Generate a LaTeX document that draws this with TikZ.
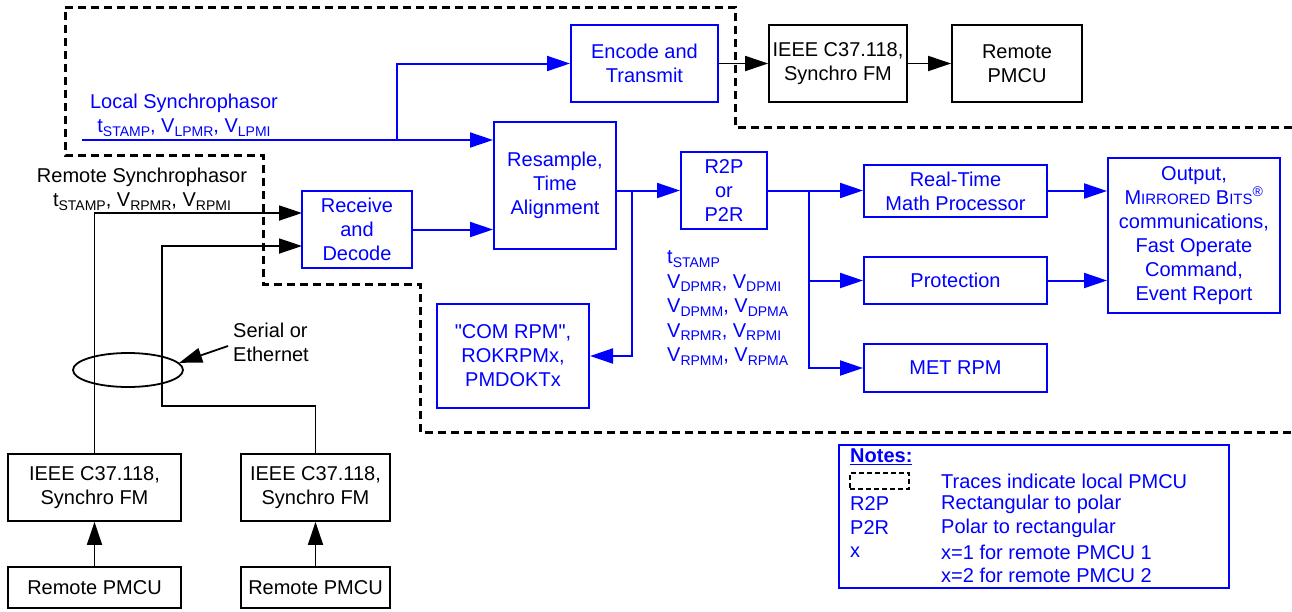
\documentclass[tikz,border=0pt]{standalone}
\usepackage{fontspec}
\setmainfont{Liberation Sans}
\newfontfamily\qfont[Ligatures=TeXOff]{Liberation Sans}
\usetikzlibrary{arrows.meta,shapes.geometric}
\newcommand{\sbs}[1]{\raisebox{-0.35ex}{\fontsize{14}{14}\selectfont #1}}
\newcommand{\smc}[1]{{\fontsize{15}{24}\selectfont #1}}
\newcommand{\sq}{{\qfont\char34}}
\definecolor{pblue}{RGB}{0,0,255}
\tikzset{
  every node/.style={font=\fontsize{20}{24}\selectfont, inner sep=0pt},
  bbox/.style={draw=pblue, text=pblue, line width=2pt, align=center},
  kbox/.style={draw=black, text=black, line width=1.8pt, align=center},
  barrow/.style={draw=pblue, line width=2pt, -{Triangle[length=23pt,width=15pt]}},
  karrow/.style={draw=black, line width=1.8pt, -{Triangle[length=23pt,width=15pt]}},
  trace/.style={draw=black, line width=3pt, dash pattern=on 8pt off 5pt},
  lbl/.style={text=pblue, align=left, anchor=west},
}
\begin{document}
\begin{tikzpicture}[x=1pt,y=-1pt]
\useasboundingbox (0,0) rectangle (1292,611);
% local PMCU trace
\draw[trace] (1292,127) -- (735,127) -- (735,7) -- (65,7) -- (65,155) -- (263,155) -- (263,284) -- (420,284) -- (420,432) -- (1292,432);

% blue boxes
\node[bbox, minimum width=147, minimum height=77] (enc) at (644.5,63.5) {Encode and\\Transmit};
\node[bbox, minimum width=122, minimum height=127] (res) at (555,185.5) {Resample,\\Time\\Alignment};
\node[bbox, minimum width=110, minimum height=77] (rcv) at (357,229.5) {Receive\\and\\Decode};
\node[bbox, minimum width=86, minimum height=77] (r2p) at (724,190.5) {R2P\\or\\P2R};
\node[bbox, minimum width=183, minimum height=52] (rtm) at (955.5,191) {Real-Time\\Math Processor};
\node[bbox, minimum width=183, minimum height=47] (prot) at (955.5,280.5) {Protection};
\node[bbox, minimum width=183, minimum height=48] (met) at (955.5,368) {MET RPM};
\node[bbox, minimum width=172, minimum height=155] (out) at (1194,235.5) {Output,\\M\smc{IRRORED} B\smc{ITS}\textsuperscript{\textregistered}\\communications,\\Fast Operate\\Command,\\Event Report};
\node[bbox, minimum width=152, minimum height=104] (com) at (513,356) {\sq COM RPM\sq,\\ROKRPMx,\\PMDOKTx};

% black boxes
\node[kbox, minimum width=138, minimum height=77] (ieeeT) at (838,63.5) {IEEE C37.118,\\Synchro FM};
\node[kbox, minimum width=130, minimum height=77] (remT) at (1017,63.5) {Remote\\PMCU};
\node[kbox, minimum width=173, minimum height=67] (ieeeL) at (94.5,487.5) {IEEE C37.118,\\Synchro FM};
\node[kbox, minimum width=149, minimum height=67] (ieeeR) at (315.5,487.5) {IEEE C37.118,\\Synchro FM};
\node[kbox, minimum width=173, minimum height=41] (remL) at (94.5,587.5) {Remote PMCU};
\node[kbox, minimum width=149, minimum height=41] (remR) at (315.5,587.5) {Remote PMCU};

% labels
\node[text=pblue, align=center] (lsl) at (184,115) {Local Synchrophasor\\t\sbs{STAMP}, V\sbs{LPMR}, V\sbs{LPMI}};
\node[text=black, align=center] (rsl) at (142,189) {Remote Synchrophasor\\t\sbs{STAMP}, V\sbs{RPMR}, V\sbs{RPMI}};
\node[lbl, font=\fontsize{20}{24.5}\selectfont] (vals) at (667,308) {t\sbs{STAMP}\\V\sbs{DPMR}, V\sbs{DPMI}\\V\sbs{DPMM}, V\sbs{DPMA}\\V\sbs{RPMR}, V\sbs{RPMI}\\V\sbs{RPMM}, V\sbs{RPMA}};

% blue connectors
\coordinate (ls) at (82,140);
\coordinate (lsb) at (397,140);
\draw[barrow] (ls) -- (ls -| res.west);
\draw[barrow] (lsb) |- (enc.west);
\draw[barrow] (rcv.east) -- (rcv.east -| res.west);
\draw[barrow] (res.east |- r2p.west) -- (r2p.west);
\coordinate (b1) at (632,190.5);
\draw[barrow] (b1) |- (com.east);
\coordinate (b2) at (809,190.5);
\draw[barrow] (r2p.east) -- (r2p.east -| rtm.west);
\draw[barrow] (b2) |- (prot.west);
\draw[barrow] (b2) |- (met.west);
\draw[barrow] (rtm.east) -- (rtm.east -| out.west);
\draw[barrow] (prot.east) -- (prot.east -| out.west);

% black connectors
\draw[karrow] (enc.east) -- (ieeeT.west);
\draw[karrow] (ieeeT.east) -- (remT.west);
\coordinate (rin1) at (302,213);
\coordinate (rin2) at (302,246);
\coordinate (c1) at (162,406);
\draw[karrow] (ieeeL.north) |- (rin1);
\draw[karrow] (ieeeR.north) |- (c1) |- (rin2);
\draw[karrow] (remL.north) -- (ieeeL.south);
\draw[karrow] (remR.north) -- (ieeeR.south);

% serial/ethernet
\node[draw=black, line width=1.8pt, ellipse, minimum width=110, minimum height=34] (ell) at (128,370) {};
\node[text=black, align=left, anchor=west] (ser) at (233,342) {Serial or\\Ethernet};
\draw[karrow] ([xshift=-5pt,yshift=-4pt]ser.west) -- (ell.8);

% notes
\node[draw=pblue, line width=2pt, minimum width=390, minimum height=143] (notes) at (1034,516.5) {};
\node[text=pblue, anchor=west] (nt) at (850,457) {\underline{\textbf{Notes:}}};
\node[trace, line width=2.2pt, dash pattern=on 5pt off 3pt, minimum width=59, minimum height=16] (key) at (879.5,481) {};
\node[lbl] (n1) at (941,481) {Traces indicate local PMCU};
\node[lbl] (k2) at (850,504) {R2P};
\node[lbl] (n2) at (941,504) {Rectangular to polar};
\node[lbl] (k3) at (850,528) {P2R};
\node[lbl] (n3) at (941,528) {Polar to rectangular};
\node[lbl] (k4) at (850,552) {x};
\node[lbl] (n4) at (941,552) {x=1 for remote PMCU 1};
\node[lbl] (n5) at (941,575) {x=2 for remote PMCU 2};
\end{tikzpicture}
\end{document}
